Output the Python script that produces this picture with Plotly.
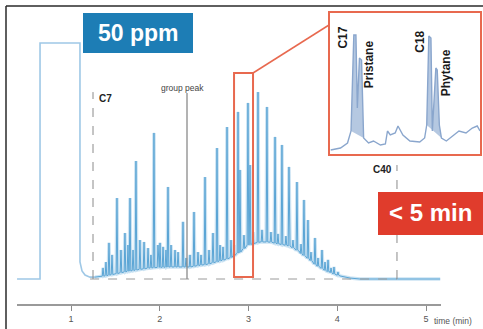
import plotly.graph_objects as go

# ---------------- data (time in min, signal in % of full scale) ----------------
solvent_time = [0.392, 0.651, 0.651, 1.101, 1.101, 1.124, 1.158, 1.214, 1.270]
solvent_signal = [0.0, 0.0, 100.0, 100.0, 7.2, 3.4, 1.7, 0.8, 0.8]

hump_time = [1.270, 1.440, 1.890, 2.115, 2.341, 2.566, 2.792, 3.130, 3.243, 3.355,
             3.468, 3.580, 3.693, 3.806, 3.918, 4.031, 4.144, 4.256, 4.481, 5.160]
hump_signal = [0.8, 1.7, 4.7, 5.1, 5.1, 6.4, 8.9, 15.7, 15.7, 14.8,
               14.0, 11.4, 8.1, 5.1, 3.0, 1.3, 0.4, 0.0, 0.0, 0.0]

peak_time = [1.361, 1.394, 1.428, 1.462, 1.518, 1.563, 1.608, 1.642, 1.665, 1.699,
             1.732, 1.777, 1.823, 1.868, 1.901, 1.935, 1.980, 2.003, 2.037, 2.070,
             2.093, 2.127, 2.172, 2.206, 2.262, 2.296, 2.341, 2.386, 2.431, 2.465,
             2.510, 2.555, 2.600, 2.645, 2.679, 2.713, 2.758, 2.803, 2.837, 2.882,
             2.904, 2.949, 2.994, 3.017, 3.051, 3.107, 3.152, 3.208, 3.253, 3.299,
             3.332, 3.377, 3.422, 3.456, 3.501, 3.546, 3.592, 3.625, 3.670, 3.704,
             3.749, 3.783, 3.828, 3.862, 3.896, 3.930, 3.963, 4.008]
peak_top = [4.7, 7.2, 15.3, 10.2, 34.3, 12.3, 19.5, 14.4, 34.3, 12.3,
            50.0, 16.5, 15.7, 13.1, 10.2, 61.9, 14.4, 15.3, 13.6, 12.3,
            39.0, 14.4, 12.3, 11.4, 24.2, 8.9, 10.2, 28.4, 11.4, 10.2,
            43.2, 12.3, 19.5, 55.5, 14.4, 13.6, 64.4, 16.5, 14.4, 70.8,
            46.2, 18.6, 74.6, 48.3, 19.9, 79.2, 20.8, 72.9, 19.9, 60.2,
            19.1, 56.8, 18.2, 47.5, 16.5, 41.1, 14.8, 33.5, 25.0, 11.4,
            17.4, 8.9, 12.3, 7.2, 8.1, 4.7, 5.1, 3.0]
peak_base = [1.2, 1.4, 1.6, 1.9, 2.3, 2.7, 3.0, 3.3, 3.4, 3.6,
             3.8, 4.1, 4.3, 4.6, 4.7, 4.8, 4.9, 4.9, 5.0, 5.0,
             5.1, 5.1, 5.1, 5.1, 5.1, 5.1, 5.1, 5.4, 5.7, 5.9,
             6.1, 6.4, 6.9, 7.3, 7.7, 8.0, 8.5, 9.1, 10.0, 11.0,
             11.4, 12.9, 14.4, 14.6, 15.0, 15.5, 15.7, 15.7, 15.6, 15.2,
             14.9, 14.6, 14.3, 14.0, 13.2, 12.2, 10.8, 10.0, 8.8, 7.8,
             6.3, 5.4, 4.5, 3.7, 3.1, 2.7, 2.1, 1.6]

inset_time = [2.838, 2.852, 2.862, 2.867, 2.871, 2.874, 2.876, 2.879, 2.882, 2.885,
              2.892, 2.899, 2.909, 2.916, 2.919, 2.923, 2.930, 2.934, 2.941, 2.951,
              2.965, 2.972, 2.975, 2.978, 2.981, 2.983, 2.988, 2.990, 2.993, 2.996,
              3.003, 3.012, 3.021, 3.031, 3.040, 3.047, 3.051]
inset_signal = [3, 5, 10, 22, 118, 118, 45, 95, 93, 15,
                10, 12, 8, 9, 22, 18, 20, 27, 18, 12,
                11, 15, 28, 117, 115, 22, 85, 83, 28, 15,
                12, 17, 22, 20, 25, 27, 22]
inset_labels = ["C17", "Pristane", "C18", "Phytane"]
inset_label_time = [2.855, 2.893, 2.965, 3.003]
inset_label_signal = [115, 89, 111, 80]

zoom_window = [2.837, 3.051]
c7_time, group_peak_time, c40_time = 1.248, 2.307, 4.673

# ---------------- build chromatogram polyline ----------------
dw = 0.009
pts = []
for t, top, base in zip(peak_time, peak_top, peak_base):
    pts += [(t - dw, base), (t, top), (t + dw, base)]
for t, v in zip(hump_time, hump_signal):
    if all(abs(t - p) > 0.012 for p in peak_time):
        pts.append((t, v))
pts.sort(key=lambda p: p[0])
chrom_t = [p[0] for p in pts]
chrom_v = [p[1] for p in pts]

W, H = 483, 329
def px(x): return x / W
def py(y): return 1 - y / H

FONT = "Liberation Sans, Arial, sans-serif"

fig = go.Figure()
fig.add_trace(go.Scatter(x=solvent_time, y=solvent_signal, mode="lines",
                         line=dict(color="#9fc8e6", width=1.6), hoverinfo="skip"))
fig.add_trace(go.Scatter(x=chrom_t, y=chrom_v, mode="lines",
                         line=dict(color="rgba(140,192,228,0.45)", width=3.5), hoverinfo="skip"))
fig.add_trace(go.Scatter(x=chrom_t, y=chrom_v, mode="lines", opacity=0.8,
                         line=dict(color="#3f96ce", width=1), hoverinfo="skip"))

# inset
for a, b in [(3, 10), (22, 30)]:
    fig.add_trace(go.Scatter(x=inset_time[a:b], y=inset_signal[a:b], mode="lines",
                             fill="toself", fillcolor="rgba(150,176,212,0.7)",
                             line=dict(width=0), xaxis="x2", yaxis="y2", hoverinfo="skip"))
fig.add_trace(go.Scatter(x=inset_time, y=inset_signal, mode="lines",
                         line=dict(color="#8aa6cd", width=1.4), xaxis="x2", yaxis="y2",
                         hoverinfo="skip"))

shapes = [
    # frame
    dict(type="line", xref="paper", yref="paper", x0=px(6), x1=px(6), y0=py(6), y1=py(340),
         line=dict(color="#2a2a2a", width=1.5)),
    dict(type="line", xref="paper", yref="paper", x0=px(6), x1=px(490), y0=py(6), y1=py(6),
         line=dict(color="#2a2a2a", width=1.5)),
    # reference lines
    dict(type="line", xref="x", yref="y", x0=1.215, x1=c40_time, y0=0, y1=0,
         line=dict(color="#9a9a9a", width=1, dash="dash")),
    dict(type="line", xref="x", yref="y", x0=c7_time, x1=c7_time, y0=0, y1=79.2,
         line=dict(color="#8a8a8a", width=1, dash="dash")),
    dict(type="line", xref="x", yref="y", x0=c40_time, x1=c40_time, y0=0, y1=48.3,
         line=dict(color="#8a8a8a", width=1, dash="dash")),
    dict(type="line", xref="x", yref="y", x0=group_peak_time, x1=group_peak_time, y0=0, y1=78.8,
         line=dict(color="#8a8a8a", width=1.3)),
    # zoom box and connector
    dict(type="rect", xref="x", yref="y", x0=zoom_window[0], x1=zoom_window[1], y0=0.85, y1=87.3,
         line=dict(color="#e8694f", width=2)),
    dict(type="line", xref="paper", yref="paper", x0=px(253), y0=py(73), x1=px(329), y1=py(25),
         line=dict(color="#e8694f", width=1.5)),
    dict(type="rect", xref="paper", yref="paper", x0=px(329), x1=px(481), y0=py(155), y1=py(12),
         line=dict(color="#e8694f", width=2)),
    # badges
    dict(type="rect", xref="paper", yref="paper", x0=px(83), x1=px(193), y0=py(53), y1=py(13),
         fillcolor="#1d7db5", line=dict(width=0)),
    dict(type="rect", xref="paper", yref="paper", x0=px(378), x1=px(490), y0=py(235), y1=py(192),
         fillcolor="#e03c2c", line=dict(width=0)),
]

annotations = [
    dict(text="<b>50 ppm</b>", xref="paper", yref="paper", x=px(138), y=py(33),
         xanchor="center", yanchor="middle",
         showarrow=False, font=dict(family=FONT, size=23, color="white")),
    dict(text="<b>&lt; 5 min</b>", xref="paper", yref="paper", x=px(430), y=py(213),
         xanchor="center", yanchor="middle",
         showarrow=False, font=dict(family=FONT, size=24, color="white")),
    dict(text="<b>C7</b>", xref="x", yref="y", x=1.293, y=76.3, xanchor="left",
         showarrow=False, font=dict(family=FONT, size=10, color="#222")),
    dict(text="group peak", xref="x", yref="y", x=2.251, y=80.9, xanchor="center",
         showarrow=False, font=dict(family=FONT, size=8.5, color="#444")),
    dict(text="<b>C40</b>", xref="x", yref="y", x=4.64, y=46.2, xanchor="right",
         showarrow=False, font=dict(family=FONT, size=10, color="#222")),
    dict(text="time (min)", xref="paper", yref="paper", x=px(432), y=py(321), xanchor="left",
         yanchor="middle",
         showarrow=False, font=dict(family=FONT, size=8.5, color="#555")),
]
for lab, t, v in zip(inset_labels, inset_label_time, inset_label_signal):
    annotations.append(dict(text=f"<b>{lab}</b>", xref="x2", yref="y2", x=t, y=v,
                            xanchor="center", yanchor="middle",
                            textangle=-90, showarrow=False,
                            font=dict(family=FONT, size=12, color="#1a1a1a")))

fig.update_layout(
    width=W, height=H, margin=dict(l=0, r=0, t=0, b=0),
    paper_bgcolor="white", plot_bgcolor="rgba(0,0,0,0)", showlegend=False,
    xaxis=dict(domain=[px(17), px(441)], range=[0.3915, 5.169], tickvals=[1, 2, 3, 4, 5],
               ticks="outside", ticklen=5, tickcolor="#8a8a8a", tickwidth=1.2,
               showline=True, linecolor="#9a9a9a", linewidth=2, showgrid=False, zeroline=False,
               tickfont=dict(family=FONT, size=9, color="#555")),
    yaxis=dict(domain=[py(304), py(6)], range=[-10.59, 115.68], visible=False),
    xaxis2=dict(domain=[px(330), px(480)], range=zoom_window, visible=False, anchor="y2"),
    yaxis2=dict(domain=[py(154), py(13)], range=[-1, 140], visible=False, anchor="x2"),
    shapes=shapes, annotations=annotations,
)
fig.write_html("out.html", config={"displayModeBar": False},
               post_script="document.body.style.margin='0px';")
